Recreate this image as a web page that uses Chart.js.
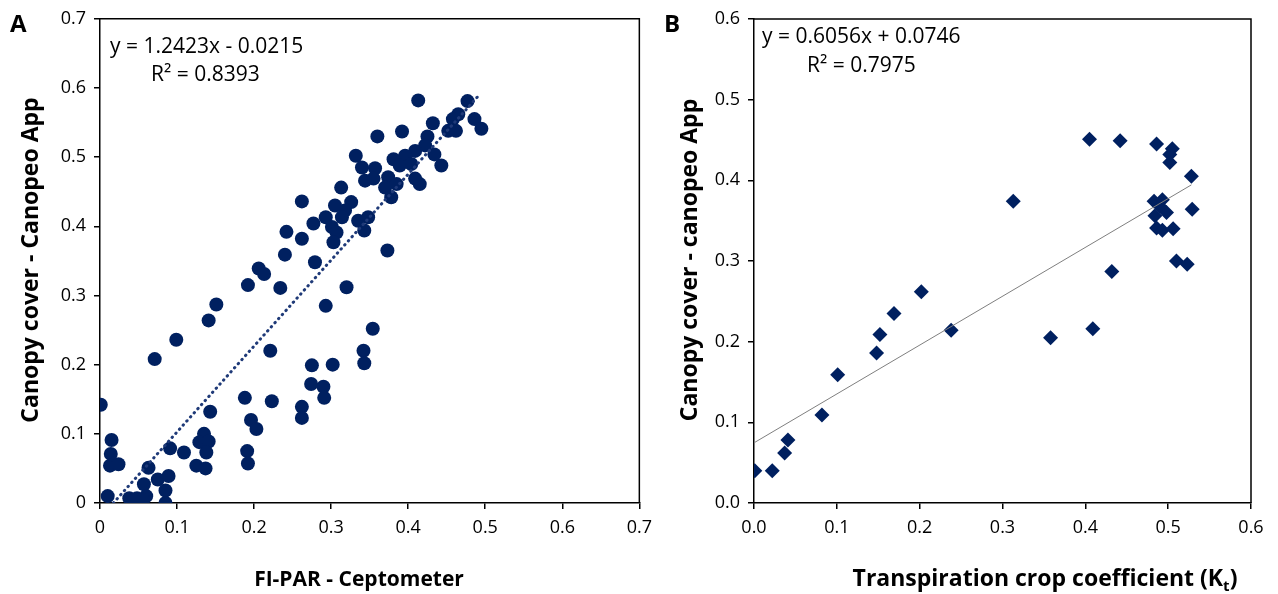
<!DOCTYPE html>
<html>
<head>
<meta charset="utf-8">
<script src="https://cdn.jsdelivr.net/npm/chart.js@4.4.0/dist/chart.umd.min.js"></script>
<style>
  html, body { margin: 0; padding: 0; background: #fff; }
  #chartA { position: absolute; left: 0; top: 0; }
  #chartB { position: absolute; left: 640px; top: 0; }
</style>
</head>
<body>
<canvas id="chartA" width="660" height="594"></canvas>
<canvas id="chartB" width="638" height="594"></canvas>
<script>
// Panel A: FI-PAR (ceptometer) vs canopy cover (Canopeo)
const fiparX = [0.001, 0.010, 0.015, 0.014, 0.013, 0.024, 0.038, 0.048, 0.057, 0.060,
  0.056, 0.063, 0.071, 0.075, 0.085, 0.089, 0.085, 0.091, 0.099, 0.109,
  0.125, 0.135, 0.129, 0.141, 0.138, 0.137, 0.143, 0.141, 0.151, 0.188,
  0.192, 0.191, 0.192, 0.196, 0.203, 0.221, 0.223, 0.234, 0.206, 0.213,
  0.320, 0.293, 0.354, 0.342, 0.343, 0.275, 0.302, 0.274, 0.290, 0.291,
  0.262, 0.262, 0.413, 0.477, 0.486, 0.495, 0.465, 0.458, 0.452, 0.462,
  0.432, 0.392, 0.360, 0.425, 0.422, 0.409, 0.434, 0.443, 0.332, 0.340,
  0.357, 0.381, 0.396, 0.389, 0.404, 0.344, 0.355, 0.374, 0.370, 0.385,
  0.378, 0.415, 0.409, 0.313, 0.262, 0.305, 0.326, 0.318, 0.293, 0.277,
  0.314, 0.301, 0.307, 0.303, 0.335, 0.348, 0.343, 0.242, 0.262, 0.240,
  0.279, 0.373];
const coverA = [0.142, 0.010, 0.091, 0.071, 0.054, 0.056, 0.007, 0.007, 0.027, 0.010,
  0.004, 0.051, 0.208, 0.034, 0.018, 0.039, 0.000, 0.079, 0.236, 0.073,
  0.054, 0.100, 0.088, 0.089, 0.073, 0.050, 0.132, 0.264, 0.287, 0.152,
  0.315, 0.075, 0.057, 0.120, 0.107, 0.220, 0.147, 0.311, 0.339, 0.331,
  0.312, 0.285, 0.252, 0.220, 0.202, 0.199, 0.200, 0.172, 0.168, 0.152,
  0.139, 0.123, 0.582, 0.581, 0.555, 0.541, 0.562, 0.555, 0.538, 0.538,
  0.549, 0.537, 0.530, 0.530, 0.517, 0.509, 0.504, 0.488, 0.502, 0.485,
  0.484, 0.497, 0.502, 0.488, 0.490, 0.466, 0.469, 0.471, 0.456, 0.461,
  0.442, 0.461, 0.469, 0.456, 0.436, 0.430, 0.435, 0.423, 0.413, 0.404,
  0.413, 0.399, 0.391, 0.377, 0.408, 0.413, 0.394, 0.392, 0.382, 0.359,
  0.348, 0.365];
const fitA = { slope: 1.2423, intercept: -0.0215, xEnd: 0.493 };

// Panel B: transpiration crop coefficient vs canopy cover
const ktX = [0.001, 0.022, 0.037, 0.041, 0.082, 0.101, 0.148, 0.152, 0.169, 0.202,
  0.238, 0.313, 0.358, 0.405, 0.409, 0.432, 0.442, 0.486, 0.505, 0.502,
  0.502, 0.528, 0.529, 0.483, 0.493, 0.498, 0.484, 0.490, 0.486, 0.493,
  0.506, 0.510, 0.523];
const coverB = [0.040, 0.040, 0.062, 0.078, 0.109, 0.159, 0.186, 0.209, 0.235, 0.262,
  0.214, 0.374, 0.205, 0.451, 0.216, 0.287, 0.449, 0.445, 0.439, 0.432,
  0.422, 0.405, 0.364, 0.374, 0.376, 0.360, 0.356, 0.368, 0.341, 0.338,
  0.340, 0.300, 0.296];
const fitB = { slope: 0.6056, intercept: 0.0746, xEnd: 0.528 };

const FONT = "'Open Sans', sans-serif";
const NAVY = '#002060';

function toPoints(xs, ys) {
  return xs.map((x, i) => ({ x: x, y: ys[i] }));
}

function fitLine(fit) {
  const x0 = Math.max(0, -fit.intercept / fit.slope);
  return [
    { x: x0, y: fit.slope * x0 + fit.intercept },
    { x: fit.xEnd, y: fit.slope * fit.xEnd + fit.intercept }
  ];
}

function axis(max, fmt, fitSize, isX) {
  return {
    type: 'linear',
    min: 0,
    max: max,
    ticks: {
      stepSize: 0.1,
      callback: fmt,
      color: '#000',
      font: { family: FONT, size: 18 },
      padding: 8,
      maxRotation: 0
    },
    grid: {
      display: true,
      drawOnChartArea: false,
      drawTicks: true,
      tickLength: 6,
      color: '#000',
      lineWidth: 1.5
    },
    border: { display: true, color: '#000', width: 1.5 },
    afterFit: function(scale) {
      if (isX) scale.height = fitSize; else scale.width = fitSize;
    }
  };
}

// draws the frame on top/right plus all the labels
function textPlugin(items) {
  return {
    id: 'panelText',
    afterDraw(chart) {
      const ctx = chart.ctx;
      const a = chart.chartArea;
      ctx.save();
      ctx.strokeStyle = '#000';
      ctx.lineWidth = 1.5;
      ctx.beginPath();
      ctx.moveTo(a.left, a.top);
      ctx.lineTo(a.right, a.top);
      ctx.lineTo(a.right, a.bottom);
      ctx.stroke();
      ctx.fillStyle = '#000';
      items.forEach(function(it) {
        ctx.save();
        ctx.font = it.font;
        ctx.textBaseline = it.baseline || 'alphabetic';
        ctx.translate(it.x, it.y);
        if (it.rotate) ctx.rotate(it.rotate);
        if (it.parts) {
          // text with subscript
          let total = 0;
          it.parts.forEach(function(p) {
            ctx.font = p.font;
            total += ctx.measureText(p.text).width;
          });
          let cx = -total / 2;
          ctx.textAlign = 'left';
          it.parts.forEach(function(p) {
            ctx.font = p.font;
            ctx.fillText(p.text, cx, p.dy || 0);
            cx += ctx.measureText(p.text).width;
          });
        } else {
          ctx.textAlign = it.align || 'left';
          ctx.fillText(it.text, 0, 0);
        }
        ctx.restore();
      });
      ctx.restore();
    }
  };
}

const fmtA = v => (v === 0 ? '0' : v.toFixed(1));
const fmtB = v => v.toFixed(1);

new Chart(document.getElementById('chartA'), {
  type: 'scatter',
  data: {
    datasets: [{
      data: fitLine(fitA),
      showLine: true,
      borderColor: '#1F3A78',
      borderWidth: 3,
      borderDash: [0.5, 5],
      borderCapStyle: 'round',
      pointRadius: 0,
      order: 0
    }, {
      data: toPoints(fiparX, coverA),
      backgroundColor: NAVY,
      borderWidth: 0,
      pointRadius: 7,
      pointHoverRadius: 7,
      order: 1
    }]
  },
  options: {
    responsive: false,
    animation: false,
    layout: { padding: { left: 0, right: 17, top: 18, bottom: 0 } },
    plugins: { legend: { display: false }, tooltip: { enabled: false } },
    scales: {
      x: axis(0.7, fmtA, 91, true),
      y: axis(0.7, fmtA, 100, false)
    }
  },
  plugins: [textPlugin([
    { text: 'A', x: 10, y: 32, font: 'bold 24px ' + FONT },
    { text: 'y = 1.2423x - 0.0215', x: 110, y: 53, font: '21px ' + FONT },
    { text: 'R\u00b2 = 0.8393', x: 151, y: 81, font: '21px ' + FONT },
    { text: 'Canopy cover - Canopeo App', x: 31, y: 260, rotate: -Math.PI / 2,
      align: 'center', baseline: 'middle', font: 'bold 23px ' + FONT },
    { text: 'FI-PAR - Ceptometer', x: 359, y: 586, align: 'center', font: 'bold 21px ' + FONT }
  ])]
});

new Chart(document.getElementById('chartB'), {
  type: 'scatter',
  data: {
    datasets: [{
      data: fitLine(fitB),
      showLine: true,
      borderColor: '#7f7f7f',
      borderWidth: 1,
      pointRadius: 0,
      order: 0
    }, {
      data: toPoints(ktX, coverB),
      backgroundColor: NAVY,
      borderWidth: 0,
      pointStyle: 'rectRot',
      pointRadius: 7.5,
      pointHoverRadius: 7.5,
      order: 1
    }]
  },
  options: {
    responsive: false,
    animation: false,
    layout: { padding: { left: 0, right: 27, top: 19, bottom: 0 } },
    plugins: { legend: { display: false }, tooltip: { enabled: false } },
    scales: {
      x: axis(0.6, fmtB, 91, true),
      y: axis(0.6, fmtB, 114, false)
    }
  },
  plugins: [textPlugin([
    { text: 'B', x: 24, y: 32, font: 'bold 24px ' + FONT },
    { text: 'y = 0.6056x + 0.0746', x: 122, y: 43, font: '21px ' + FONT },
    { text: 'R\u00b2 = 0.7975', x: 167, y: 72, font: '21px ' + FONT },
    { text: 'Canopy cover - canopeo App', x: 50, y: 260, rotate: -Math.PI / 2,
      align: 'center', baseline: 'middle', font: 'bold 23px ' + FONT },
    { x: 405, y: 586, parts: [
      { text: 'Transpiration crop coefficient (K', font: 'bold 23px ' + FONT },
      { text: 't', font: 'bold 15px ' + FONT, dy: 5 },
      { text: ')', font: 'bold 23px ' + FONT }
    ] }
  ])]
});
</script>
</body>
</html>
